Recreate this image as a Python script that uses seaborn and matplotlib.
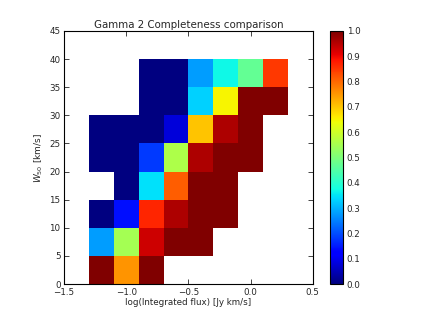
import numpy as np
import pandas as pd
import seaborn as sns
import matplotlib
matplotlib.use("Agg")
import matplotlib.pyplot as plt

sns.set_style("ticks")
plt.rcParams["font.family"] = ["DejaVu Sans"]
plt.rcParams["xtick.direction"] = "in"
plt.rcParams["ytick.direction"] = "in"

nan = np.nan
# bin left edges
flux_bins = [-1.5, -1.3, -1.1, -0.9, -0.7, -0.5, -0.3, -0.1, 0.1, 0.3]
w50_bins = [0, 5, 10, 15, 20, 25, 30, 35, 40]
flux_ticks = [-1.5, -1.0, -0.5, 0.0, 0.5]
w50_ticks = [0, 5, 10, 15, 20, 25, 30, 35, 40, 45]

# completeness fraction per cell, rows from W50 = 0 upwards
row_0_5 = [nan, 1.00, 0.75, 1.00, nan, nan, nan, nan, nan, nan]
row_5_10 = [nan, 0.28, 0.55, 0.93, 1.00, 1.00, nan, nan, nan, nan]
row_10_15 = [nan, 0.00, 0.14, 0.87, 0.96, 1.00, 1.00, nan, nan, nan]
row_15_20 = [nan, nan, 0.00, 0.345, 0.81, 1.00, 1.00, nan, nan, nan]
row_20_25 = [nan, 0.00, 0.00, 0.18, 0.56, 0.96, 1.00, 1.00, nan, nan]
row_25_30 = [nan, 0.00, 0.00, 0.00, 0.08, 0.70, 0.96, 1.00, nan, nan]
row_30_35 = [nan, nan, nan, 0.00, 0.00, 0.33, 0.65, 1.00, 1.00, nan]
row_35_40 = [nan, nan, nan, 0.00, 0.00, 0.28, 0.37, 0.47, 0.85, nan]
row_40_45 = [nan] * 10

grid = pd.DataFrame([row_0_5, row_5_10, row_10_15, row_15_20, row_20_25,
                     row_25_30, row_30_35, row_35_40, row_40_45],
                    index=w50_bins, columns=flux_bins)

fig = plt.figure(figsize=(4.21, 3.16), dpi=100)
ax = fig.add_axes([0.152, 0.101, 0.591, 0.801])
cax = fig.add_axes([0.784, 0.101, 0.031, 0.801])

sns.heatmap(grid, cmap="jet", vmin=0, vmax=1, ax=ax, cbar_ax=cax,
            xticklabels=False, yticklabels=False)
ax.invert_yaxis()

# map data coordinates onto heatmap cell indices
dx = 0.2
dy = 5
ax.set_xticks([(v - flux_bins[0]) / dx for v in flux_ticks])
ax.set_xticklabels([("%.1f" % v).replace("-", "\u2212") for v in flux_ticks])
ax.set_yticks([(v - w50_bins[0]) / dy for v in w50_ticks])
ax.set_yticklabels([str(v) for v in w50_ticks], rotation=0)
ax.tick_params(axis="both", labelsize=6.3, length=3.5, width=0.6,
               top=True, right=True, direction="in", pad=2.5)
for s in ax.spines.values():
    s.set_visible(True)
    s.set_linewidth(0.8)
    s.set_color("black")

ax.set_xlabel("log(Integrated flux) [Jy km/s]", fontsize=6.3, labelpad=1)
ax.set_ylabel("$W_{50}$ [km/s]", fontsize=6.5, labelpad=3)
ax.set_title("Gamma 2 Completeness comparison", fontsize=7.4, pad=2)

cb = ax.collections[0].colorbar
cb.set_ticks([0.0, 0.1, 0.2, 0.3, 0.4, 0.5, 0.6, 0.7, 0.8, 0.9, 1.0])
cb.set_ticklabels(["%.1f" % t for t in cb.get_ticks()])
cb.outline.set_linewidth(0.8)
cb.outline.set_edgecolor("black")
cax.tick_params(labelsize=6.3, length=3, width=0.6, direction="in", pad=2.5)

fig.savefig("out.png", dpi=100)
